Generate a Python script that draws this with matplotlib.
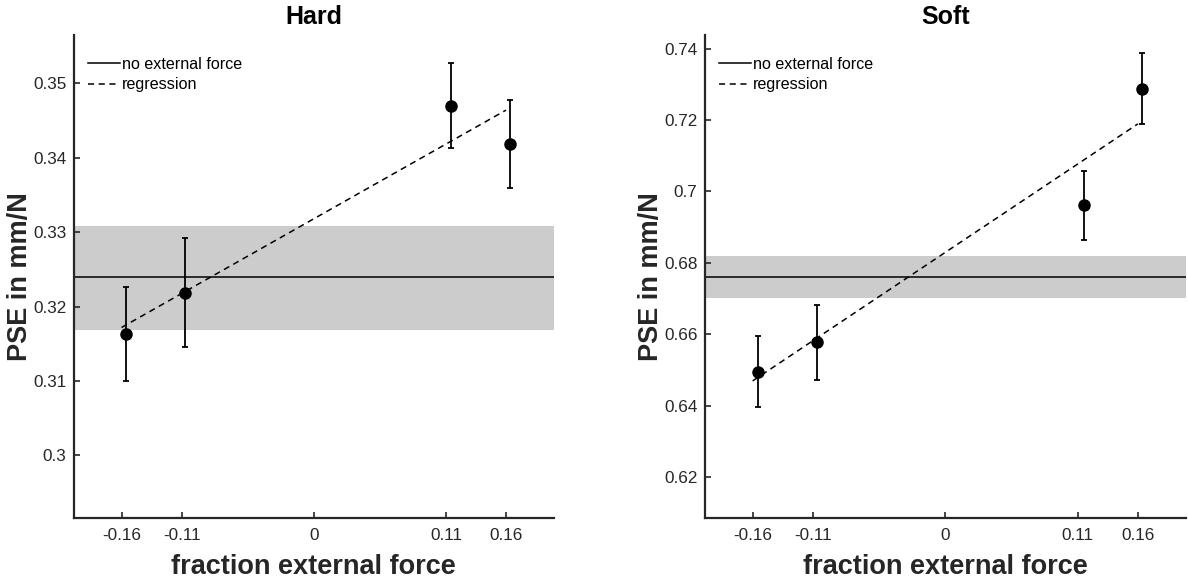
import numpy as np
import matplotlib
matplotlib.use('Agg')
import matplotlib.pyplot as plt

plt.rcParams['font.family'] = ['Liberation Sans', 'DejaVu Sans']

# ---------------- datos ----------------
ticks_x = [-0.16, -0.11, 0, 0.11, 0.16]
tick_labels_x = ['-0.16', '-0.11', '0', '0.11', '0.16']

# Hard
hard_x = [-0.1563, -0.1072, 0.1145, 0.1635]
hard_y = [0.3163, 0.3219, 0.3470, 0.3419]
hard_err = [0.0063, 0.0073, 0.0057, 0.0059]
hard_ref = 0.3240
hard_band = (0.3169, 0.3309)
hard_reg = (0.3318, 0.09125)     # intercepto, pendiente
hard_yticks = [0.30, 0.31, 0.32, 0.33, 0.34, 0.35]
hard_ylabels = ['0.3', '0.31', '0.32', '0.33', '0.34', '0.35']
hard_ylim = (0.2916, 0.3565)

# Soft
soft_x = [-0.1557, -0.1065, 0.1150, 0.1635]
soft_y = [0.6495, 0.6577, 0.6961, 0.7288]
soft_err = [0.0100, 0.0105, 0.0096, 0.0100]
soft_ref = 0.6760
soft_band = (0.6701, 0.6819)
soft_reg = (0.6829, 0.2250)
soft_yticks = [0.62, 0.64, 0.66, 0.68, 0.70, 0.72, 0.74]
soft_ylabels = ['0.62', '0.64', '0.66', '0.68', '0.7', '0.72', '0.74']
soft_ylim = (0.6085, 0.7438)

gris = '#262626'

fig = plt.figure(figsize=(11.88, 5.83), dpi=100)
ax1 = fig.add_axes([73.5/1188, 65/583, 480.5/1188, 483/583])
ax2 = fig.add_axes([704.5/1188, 65/583, 481.5/1188, 483/583])


def panel(ax, titulo, px, py, perr, ref, band, reg, yt, ytl, ylim):
    ax.axhspan(band[0], band[1], color='#cccccc', lw=0, zorder=1)
    ax.axhline(ref, color='k', lw=1.1, zorder=2, label='no external force')
    xr = np.array([-0.16, 0.16])
    ax.plot(xr, reg[0] + reg[1]*xr, 'k--', lw=1.1, dashes=(4, 3), zorder=3,
            label='regression')
    ax.errorbar(px, py, yerr=perr, fmt='o', color='k', ms=8, elinewidth=1.3,
                capsize=2.5, capthick=1.3, zorder=4)
    ax.set_xlim(-0.2, 0.2)
    ax.set_ylim(*ylim)
    ax.set_xticks(ticks_x)
    ax.set_xticklabels(tick_labels_x)
    ax.set_yticks(yt)
    ax.set_yticklabels(ytl)
    for s in ['top', 'right']:
        ax.spines[s].set_visible(False)
    for s in ['left', 'bottom']:
        ax.spines[s].set_linewidth(1.6)
        ax.spines[s].set_color(gris)
    ax.tick_params(direction='in', length=4, width=1.2, color=gris,
                   labelcolor=gris, labelsize=12.3, pad=5)
    ax.tick_params(axis='x', pad=7)
    ax.set_title(titulo, fontsize=18, fontweight='bold', pad=8)
    ax.set_xlabel('fraction external force', fontsize=19.5, fontweight='bold',
                  color=gris, labelpad=8)
    ax.set_ylabel('PSE in mm/N', fontsize=19.5, fontweight='bold', color=gris,
                  labelpad=0)
    ax.legend(loc='upper left', frameon=False, fontsize=11.6, handlelength=2.0,
              handletextpad=0.1, labelspacing=0.35, borderpad=0,
              borderaxespad=0, bbox_to_anchor=(0.03, 0.955))


panel(ax1, 'Hard', hard_x, hard_y, hard_err, hard_ref, hard_band, hard_reg,
      hard_yticks, hard_ylabels, hard_ylim)
panel(ax2, 'Soft', soft_x, soft_y, soft_err, soft_ref, soft_band, soft_reg,
      soft_yticks, soft_ylabels, soft_ylim)

fig.savefig('out.png', dpi=100)
